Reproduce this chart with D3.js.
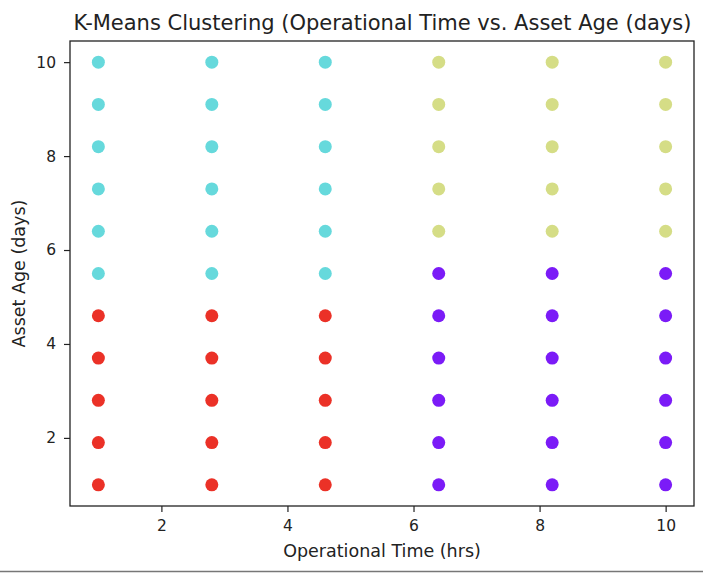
<!DOCTYPE html>
<html>
<head>
<meta charset="utf-8">
<script src="https://cdn.jsdelivr.net/npm/d3@7"></script>
<style>
  html, body { margin: 0; padding: 0; background: #ffffff; }
  svg { display: block; font-family: "DejaVu Sans", sans-serif; }
</style>
</head>
<body>
<svg id="chart" width="703" height="573"></svg>
<script>
// Data
const operationalTime = [1, 2.8, 4.6, 6.4, 8.2, 10];
const assetAge = [1, 1.9, 2.8, 3.7, 4.6, 5.5, 6.4, 7.3, 8.2, 9.1, 10];
// cluster label for each column (operationalTime) listed bottom->top (assetAge)
const clusterByColumn = [
  [3,3,3,3,3,1,1,1,1,1,1],
  [3,3,3,3,3,1,1,1,1,1,1],
  [3,3,3,3,3,1,1,1,1,1,1],
  [0,0,0,0,0,0,2,2,2,2,2],
  [0,0,0,0,0,0,2,2,2,2,2],
  [0,0,0,0,0,0,2,2,2,2,2]
];
const clusterColors = ["#7b1bf7", "#66d9dc", "#d5dd86", "#eb3127"];
const xTicks = [2, 4, 6, 8, 10];
const yTicks = [2, 4, 6, 8, 10];
const titleText = "K-Means Clustering (Operational Time vs. Asset Age (days)";
const xLabel = "Operational Time (hrs)";
const yLabel = "Asset Age (days)";

const points = [];
operationalTime.forEach((xv, i) => {
  assetAge.forEach((yv, j) => {
    points.push({x: xv, y: yv, c: clusterByColumn[i][j]});
  });
});

const svg = d3.select("#chart");
const L = 70, R = 694, T = 41, B = 506;

const xPad = (d3.max(operationalTime) - d3.min(operationalTime)) * 0.05;
const yPad = (d3.max(assetAge) - d3.min(assetAge)) * 0.05;
const x = d3.scaleLinear()
  .domain([d3.min(operationalTime) - xPad, d3.max(operationalTime) + xPad])
  .range([L, R]);
const y = d3.scaleLinear()
  .domain([d3.min(assetAge) - yPad, d3.max(assetAge) + yPad])
  .range([B, T]);

// points
svg.append("g").selectAll("circle")
  .data(points)
  .join("circle")
  .attr("cx", d => x(d.x))
  .attr("cy", d => y(d.y))
  .attr("r", 6.5)
  .attr("fill", d => clusterColors[d.c]);

// axes
const xAxis = svg.append("g")
  .attr("transform", `translate(0,${B})`)
  .call(d3.axisBottom(x).tickValues(xTicks).tickFormat(d3.format("d")).tickSize(6).tickPadding(8).tickSizeOuter(0));
const yAxis = svg.append("g")
  .attr("transform", `translate(${L},0)`)
  .call(d3.axisLeft(y).tickValues(yTicks).tickFormat(d3.format("d")).tickSize(6).tickPadding(8).tickSizeOuter(0));
[xAxis, yAxis].forEach(a => {
  a.select(".domain").remove();
  a.selectAll("line").attr("stroke", "#222").attr("stroke-width", 1.2);
  a.selectAll("text").attr("fill", "#222").style("font-size", "15.5px").style("font-family", "'DejaVu Sans', sans-serif");
});
xAxis.selectAll("text").attr("dy", "0.71em");

// frame
svg.append("rect")
  .attr("x", L).attr("y", T)
  .attr("width", R - L).attr("height", B - T)
  .attr("fill", "none").attr("stroke", "#222").attr("stroke-width", 1.3);

// title
svg.append("text")
  .attr("x", 382.5).attr("y", 30)
  .attr("text-anchor", "middle")
  .attr("fill", "#222")
  .style("font-size", "21px")
  .text(titleText);

// axis labels
svg.append("text")
  .attr("x", (L + R) / 2).attr("y", 557)
  .attr("text-anchor", "middle")
  .attr("fill", "#222")
  .style("font-size", "17.5px")
  .text(xLabel);
svg.append("text")
  .attr("transform", `translate(25,${(T + B) / 2}) rotate(-90)`)
  .attr("text-anchor", "middle")
  .attr("fill", "#222")
  .style("font-size", "17.5px")
  .text(yLabel);

// bottom border line of the screenshot
svg.append("line")
  .attr("x1", 0).attr("x2", 703).attr("y1", 571.5).attr("y2", 571.5)
  .attr("stroke", "#777").attr("stroke-width", 1.5);
</script>
</body>
</html>
